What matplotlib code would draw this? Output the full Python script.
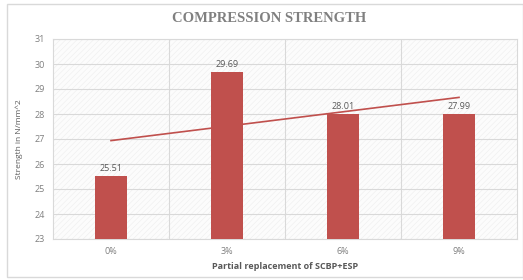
import matplotlib
matplotlib.use("Agg")
import matplotlib.pyplot as plt
import numpy as np
from matplotlib.patches import Rectangle

categories = ["0%", "3%", "6%", "9%"]
strength = [25.51, 29.69, 28.01, 27.99]
yticks = [23, 24, 25, 26, 27, 28, 29, 30, 31]

plt.rcParams['font.family'] = ['Open Sans', 'DejaVu Sans']
plt.rcParams['hatch.color'] = '#eeeeee'
plt.rcParams['hatch.linewidth'] = 0.4

fig = plt.figure(figsize=(5.23, 2.8), dpi=100)
fig.patches.append(Rectangle((7/523, 3/280), 1 - 7/523, 1 - 7/280, transform=fig.transFigure,
                             fill=False, edgecolor='#d9d9d9', linewidth=1.0))
ax = fig.add_axes([53/523, 41/280, 464/523, 200/280])

x = np.arange(len(categories))
ax.add_patch(Rectangle((0, 0), 1, 1, transform=ax.transAxes, facecolor='#fcfcfc',
                       hatch='//////', edgecolor='#eeeeee', linewidth=0, zorder=0))
ax.bar(x, [v - 23 for v in strength], bottom=23, width=0.28, color='#C0504D', zorder=3)
for xi, v in zip(x, strength):
    ax.text(xi, v + 0.12, f"{v:.2f}", ha='center', va='bottom', fontsize=6.5, color='#595959', zorder=4)

# linear trendline (as in the spreadsheet)
coef = np.polyfit(x, strength, 1)
ax.plot(x, np.polyval(coef, x), color='#C0504D', linewidth=1.2, zorder=4)

ax.set_xlim(-0.5, len(categories) - 0.5)
ax.set_ylim(23, 31)
ax.set_yticks(yticks)
ax.set_yticklabels([str(t) for t in yticks], fontsize=6.5, color='#7f7f7f')
ax.set_xticks(x)
ax.set_xticklabels(categories, fontsize=6.5, color='#7f7f7f')
ax.tick_params(length=0, pad=6)
ax.set_axisbelow(True)
ax.grid(axis='y', color='#d9d9d9', linewidth=0.8, zorder=1)
for b in [0.5, 1.5, 2.5]:
    ax.axvline(b, color='#d9d9d9', linewidth=0.8, zorder=1)
for s in ax.spines.values():
    s.set_color('#d9d9d9')
    s.set_linewidth(0.8)

ax.set_xlabel("Partial replacement of SCBP+ESP", fontsize=6.5, fontweight='bold', color='#595959', labelpad=4)
ax.set_ylabel("Strength in N/mm^2", fontsize=6, color='#595959', labelpad=8)
fig.text(0.515, 1 - 19/280, "COMPRESSION STRENGTH", ha='center', va='center', fontsize=10.5,
         fontweight='bold', color='#808080', family=['Liberation Serif', 'DejaVu Serif'])

fig.savefig("out.png", dpi=100)
